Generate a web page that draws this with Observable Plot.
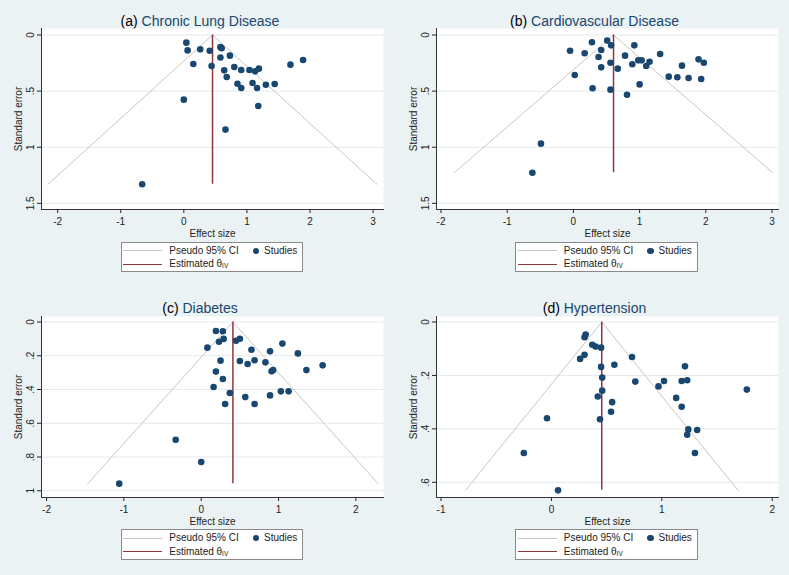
<!DOCTYPE html>
<html><head><meta charset="utf-8">
<script src="https://cdn.jsdelivr.net/npm/d3@7"></script>
<script src="https://cdn.jsdelivr.net/npm/@observablehq/plot@0.6"></script>
<style>
body{margin:0;background:#eaf2f3;font-family:"Liberation Sans",Arial,sans-serif}
#grid{display:grid;grid-template-columns:394.5px 394.5px;grid-template-rows:287.5px 287.5px;width:789px;height:575px;background:#eaf2f3}
.panel{position:relative;overflow:hidden}
.title{position:absolute;left:0;width:400px;top:13.5px;height:14px;line-height:14px;font-size:14px;text-align:center;color:#1a476f;white-space:nowrap}
.title span{color:#000}
.plot{position:absolute;left:0;top:27px}
.legend{position:absolute;left:120.5px;top:241.5px;width:182.5px;height:30.5px;box-sizing:border-box;background:#fff;border:1px solid #8a8a8a;font-size:10px;color:#222}
.legend .t{position:absolute;line-height:12px;white-space:nowrap}
.legend .ln{position:absolute;left:1.5px;width:39px;height:1.3px}
.legend .dot{position:absolute;width:6.4px;height:6.4px;border-radius:50%;background:#1a476f}
.legend sub{font-size:6.5px;vertical-align:-1px;line-height:0}
</style>
</head><body>
<div id="grid"></div>
<script>
// ---- data ----
const titlesPrefix = ["(a)", "(b)", "(c)", "(d)"];
const titles = ["Chronic Lung Disease", "Cardiovascular Disease", "Diabetes", "Hypertension"];
const thetaIV = [0.455, 0.606, 0.41, 0.456];

const esA = [0.04,0.06,0.26,0.41,0.58,0.60,0.15,0.44,0.58,0.73,0.64,0.80,0.68,0.91,1.04,1.13,1.19,0.85,0.91,1.09,1.16,1.30,1.44,1.69,1.89,0.00,1.18,0.66,-0.66];
const seA = [0.068,0.137,0.128,0.14,0.108,0.118,0.258,0.276,0.20,0.184,0.315,0.285,0.374,0.312,0.312,0.324,0.30,0.434,0.472,0.428,0.472,0.443,0.437,0.264,0.223,0.576,0.633,0.843,1.33];

const esB = [-0.05,0.28,0.51,0.57,0.92,0.17,0.42,0.38,0.56,0.42,0.78,0.67,0.89,0.98,1.03,1.10,1.15,1.31,1.64,1.89,1.97,0.02,1.44,1.57,1.74,1.93,0.29,0.56,1.00,0.81,-0.49,-0.62];
const seB = [0.14,0.065,0.05,0.092,0.092,0.163,0.134,0.196,0.247,0.288,0.184,0.30,0.261,0.226,0.226,0.276,0.238,0.169,0.273,0.217,0.247,0.356,0.371,0.377,0.383,0.392,0.475,0.487,0.44,0.532,0.968,1.227];

const esC = [0.19,0.28,0.23,0.29,0.45,0.50,0.08,0.65,1.05,0.89,1.25,0.25,0.50,0.60,0.69,0.83,1.57,0.19,0.91,0.93,1.36,0.28,0.16,0.37,0.57,0.89,1.03,1.13,0.31,0.69,-0.33,0.00,-1.06];
const seC = [0.053,0.055,0.117,0.10,0.111,0.099,0.152,0.164,0.128,0.174,0.186,0.229,0.231,0.249,0.227,0.239,0.257,0.294,0.292,0.285,0.285,0.338,0.385,0.421,0.445,0.435,0.411,0.411,0.486,0.486,0.698,0.83,0.958];

const esD = [0.31,0.30,0.37,0.40,0.45,0.30,0.26,0.73,0.57,0.45,1.21,0.46,0.76,1.02,1.18,1.23,0.97,1.77,0.46,0.42,0.55,1.13,1.18,0.54,0.44,-0.04,1.24,1.32,1.23,1.30,-0.25,0.06];
const seD = [0.047,0.057,0.085,0.092,0.096,0.123,0.138,0.131,0.16,0.168,0.166,0.208,0.223,0.221,0.221,0.218,0.241,0.253,0.257,0.279,0.30,0.284,0.317,0.336,0.364,0.36,0.402,0.404,0.422,0.49,0.49,0.63];

const xTicksAB = [-2,-1,0,1,2,3];
const yTicksAB = [0,0.5,1,1.5];
const xTicksC = [-2,-1,0,1,2];
const yTicksC = [0,0.2,0.4,0.6,0.8,1];
const xTicksD = [-1,0,1,2];
const yTicksD = [0,0.2,0.4,0.6];

// scale extents (plot region)
const xDomains = [[-2.256,3.165],[-2.068,3.098],[-2.065,2.357],[-1.041,2.057]];
const yDomains = [[-0.058,1.555],[-0.058,1.555],[-0.0326,1.040],[-0.0206,0.6568]];

const panels = [
  {es:esA, se:seA, xt:xTicksAB, yt:yTicksAB},
  {es:esB, se:seB, xt:xTicksAB, yt:yTicksAB},
  {es:esC, se:seC, xt:xTicksC, yt:yTicksC},
  {es:esD, se:seD, xt:xTicksD, yt:yTicksD}
];

const fmt = d => String(d).replace(/^(-?)0\./, "$1.");
const NAVY = "#1a476f", MAROON = "#90353b", CIGRAY = "#c6c6c6";

const grid = document.getElementById("grid");
panels.forEach((p, i) => {
  const div = document.createElement("div");
  div.className = "panel";
  const t = document.createElement("div");
  t.className = "title";
  t.innerHTML = `<span>${titlesPrefix[i]}</span> ${titles[i]}`;
  div.appendChild(t);

  const data = p.es.map((e, j) => ({es: e, se: p.se[j]}));
  const theta = thetaIV[i];
  const maxSE = d3.max(p.se);
  const funnel = [
    {es: theta - 1.96 * maxSE, se: maxSE},
    {es: theta, se: 0},
    {es: theta + 1.96 * maxSE, se: maxSE}
  ];
  const est = [{es: theta, s1: 0, s2: maxSE}];

  const chart = Plot.plot({
    width: 394, height: 211,
    marginTop: 1, marginBottom: 29, marginLeft: 41, marginRight: 11,
    style: {fontFamily: '"Liberation Sans", Arial, sans-serif', fontSize: "10px", background: "transparent", color: "#222", overflow: "visible"},
    x: {domain: xDomains[i]},
    y: {domain: yDomains[i], reverse: true},
    marks: [
      Plot.frame({fill: "white", stroke: null}),
      Plot.gridY(p.yt, {stroke: "#e2eaed", strokeOpacity: 1}),
      Plot.line(funnel, {x: "es", y: "se", stroke: CIGRAY, strokeWidth: 1}),
      Plot.ruleX(est, {x: "es", y1: "s1", y2: "s2", stroke: MAROON, strokeWidth: 1.5}),
      Plot.dot(data, {x: "es", y: "se", r: 3.3, fill: NAVY}),
      Plot.axisX(p.xt, {tickSize: 4, tickPadding: 4, tickFormat: fmt, label: "Effect size", labelAnchor: "center", labelArrow: "none", labelOffset: 27}),
      Plot.axisY(p.yt, {tickSize: 4, tickPadding: 4, tickRotate: -90, tickFormat: fmt, label: "Standard error", labelAnchor: "center", labelArrow: "none", labelOffset: 27}),
      Plot.frame({anchor: "left", stroke: "#333"}),
      Plot.frame({anchor: "bottom", stroke: "#333"})
    ]
  });
  const wrap = document.createElement("div");
  wrap.className = "plot";
  wrap.appendChild(chart);
  div.appendChild(wrap);

  const lg = document.createElement("div");
  lg.className = "legend";
  lg.innerHTML = `
    <div class="ln" style="top:7.6px;background:${CIGRAY}"></div>
    <div class="t" style="left:47.8px;top:2.2px">Pseudo 95% CI</div>
    <div class="dot" style="left:131.3px;top:5px"></div>
    <div class="t" style="left:142.5px;top:2.2px">Studies</div>
    <div class="ln" style="top:21.2px;background:${MAROON}"></div>
    <div class="t" style="left:47.8px;top:15.8px">Estimated θ<sub>IV</sub></div>`;
  div.appendChild(lg);
  grid.appendChild(div);
});
</script>
</body></html>
